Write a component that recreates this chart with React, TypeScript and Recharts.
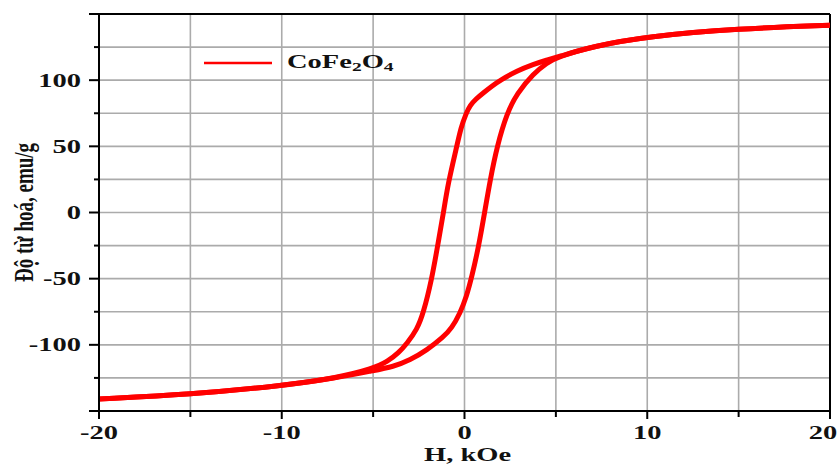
import React from 'react'
import { LineChart, Line, XAxis, YAxis, CartesianGrid, ReferenceLine, Legend } from 'recharts'

// Hysteresis loop of CoFe2O4 (H in kOe, M in emu/g)
// upper branch: field swept down from +20 kOe
const upperH = [-20, -15, -10, -7, -5, -4.2, -3.6, -3.15, -2.6, -2.25, -1.8, -1.48, -1.15, -0.9, -0.42, -0.2, 0.09, 0.31, 0.6, 1.04, 1.5, 1.96, 2.87, 3.78, 4.5, 5.1, 7, 10, 15, 20]
const upperM = [-141, -137.5, -131, -125, -118, -112.5, -106, -99, -88.5, -76, -51, -26, 0, 22, 50, 64, 75, 81, 85.5, 90.5, 95.5, 100, 107, 112, 115.2, 117.5, 125.5, 133, 139, 141.5]
// lower branch: field swept up from -20 kOe
const lowerH = [-20, -15, -10, -7, -5, -3.89, -2.98, -2.06, -1.15, -0.7, -0.24, 0.1, 0.41, 0.77, 1.1, 1.41, 1.78, 2.32, 2.87, 3.78, 4.5, 5.1, 7, 10, 15, 20]
const lowerM = [-141, -137.5, -131, -125, -119.5, -116.5, -111.5, -104, -94, -87.5, -76, -64, -48, -26, 0, 25, 50, 75, 90, 105, 113, 117.5, 125.5, 133, 139, 141.5]

const xTicks = [-20, -15, -10, -5, 0, 5, 10, 15, 20]
const xLabelled = [-20, -10, 0, 10, 20]
const yTicks = [-150, -125, -100, -75, -50, -25, 0, 25, 50, 75, 100, 125, 150]
const yLabelled = [-100, -50, 0, 50, 100]

const seriesName = 'CoFe2O4'
const xTitle = 'H, kOe'
const yTitle = 'Độ từ hoá, emu/g'

const upperData = upperH.map((h, i) => ({ h, m: upperM[i] }))
const lowerData = lowerH.map((h, i) => ({ h, m: lowerM[i] }))

const FONT = '"Liberation Serif", "Times New Roman", serif'
const INK = '#111'
const RED = '#ff0000'
const STRETCH = 1.5 // the source image is stretched horizontally

// eslint-disable-next-line @typescript-eslint/no-explicit-any
function XTick({ x, y, payload }: any) {
  const v = payload.value
  const major = xLabelled.includes(v)
  const dx = v === 20 ? -7 : 0
  return (
    <g>
      <line x1={x} x2={x} y1={y} y2={y + (major ? 8 : 6)} stroke="#000" strokeWidth={2} />
      {major && (
        <text
          transform={`translate(${x + dx},${y + 27.5}) scale(${STRETCH},1)`}
          textAnchor="middle"
          fontFamily={FONT}
          fontWeight="bold"
          fontSize={19}
          fill={INK}
        >
          {v}
        </text>
      )}
    </g>
  )
}

// eslint-disable-next-line @typescript-eslint/no-explicit-any
function YTick({ x, y, payload }: any) {
  const v = payload.value
  const major = v % 50 === 0
  return (
    <g>
      <line x1={x} x2={x - (major ? 10 : 5)} y1={y} y2={y} stroke="#000" strokeWidth={2} />
      {yLabelled.includes(v) && (
        <text
          transform={`translate(${x - 18},${y + 6.5}) scale(${STRETCH},1)`}
          textAnchor="end"
          fontFamily={FONT}
          fontWeight="bold"
          fontSize={19}
          fill={INK}
        >
          {v}
        </text>
      )}
    </g>
  )
}

// eslint-disable-next-line @typescript-eslint/no-explicit-any
function XTitle({ viewBox }: any) {
  const cx = viewBox.x + viewBox.width / 2 + 3
  return (
    <text
      transform={`translate(${cx},${viewBox.y + 50}) scale(${STRETCH},1)`}
      textAnchor="middle"
      fontFamily={FONT}
      fontWeight="bold"
      fontSize={19}
      fill={INK}
    >
      {xTitle}
    </text>
  )
}

// eslint-disable-next-line @typescript-eslint/no-explicit-any
function YTitle({ viewBox }: any) {
  const cy = viewBox.y + viewBox.height / 2
  return (
    <text
      transform={`translate(24,${cy}) rotate(-90) scale(1,1.4)`}
      y={6.5}
      textAnchor="middle"
      fontFamily={FONT}
      fontWeight="bold"
      fontSize={19}
      fill={INK}
    >
      {yTitle}
    </text>
  )
}

function LegendBox() {
  return (
    <svg width={220} height={28} style={{ display: 'block', overflow: 'visible' }}>
      <line x1={4} x2={72} y1={13} y2={13} stroke={RED} strokeWidth={2.5} />
      <text
        transform={`translate(87,18) scale(${STRETCH},1)`}
        fontFamily={FONT}
        fontWeight="bold"
        fontSize={19}
        fill={INK}
      >
        {seriesName.slice(0, 4)}
        <tspan fontSize={13} dy={3}>{seriesName[4]}</tspan>
        <tspan fontSize={19} dy={-3}>{seriesName[5]}</tspan>
        <tspan fontSize={13} dy={3}>{seriesName[6]}</tspan>
      </text>
    </svg>
  )
}

export default function App() {
  return (
    <div style={{ position: 'absolute', left: 0, top: 0, width: 840, height: 464, background: '#fff' }}>
      <LineChart width={840} height={464} margin={{ top: 14, right: 10, bottom: 0, left: 0 }}>
        <CartesianGrid stroke="#ababab" strokeWidth={1.6} />
        <XAxis
          dataKey="h"
          type="number"
          domain={[-20, 20]}
          ticks={xTicks}
          interval={0}
          allowDataOverflow
          height={53}
          tickSize={0}
          tickMargin={0}
          tickLine={false}
          axisLine={{ stroke: '#000', strokeWidth: 2 }}
          tick={<XTick />}
          label={{ content: (p: unknown) => <XTitle {...(p as object)} /> }}
        />
        <YAxis
          dataKey="m"
          type="number"
          domain={[-150, 150]}
          ticks={yTicks}
          interval={0}
          allowDataOverflow
          width={99}
          tickSize={0}
          tickMargin={0}
          tickLine={false}
          axisLine={{ stroke: '#000', strokeWidth: 2 }}
          tick={<YTick />}
          label={{ content: (p: unknown) => <YTitle {...(p as object)} /> }}
        />
        <ReferenceLine y={150} stroke="#000" strokeWidth={2} />
        <ReferenceLine x={20} stroke="#000" strokeWidth={2} />
        <Legend
          layout="horizontal"
          verticalAlign="middle"
          align="center"
          content={() => <LegendBox />}
          wrapperStyle={{ position: 'absolute', left: 200, top: 50, width: 220, height: 28, margin: 0 }}
        />
        <Line
          data={upperData}
          dataKey="m"
          type="basis"
          stroke={RED}
          strokeWidth={5}
          strokeLinejoin="round"
          dot={false}
          activeDot={false}
          isAnimationActive={false}
          name={seriesName}
        />
        <Line
          data={lowerData}
          dataKey="m"
          type="basis"
          stroke={RED}
          strokeWidth={5}
          strokeLinejoin="round"
          dot={false}
          activeDot={false}
          isAnimationActive={false}
          name={seriesName + ' '}
        />
      </LineChart>
    </div>
  )
}
